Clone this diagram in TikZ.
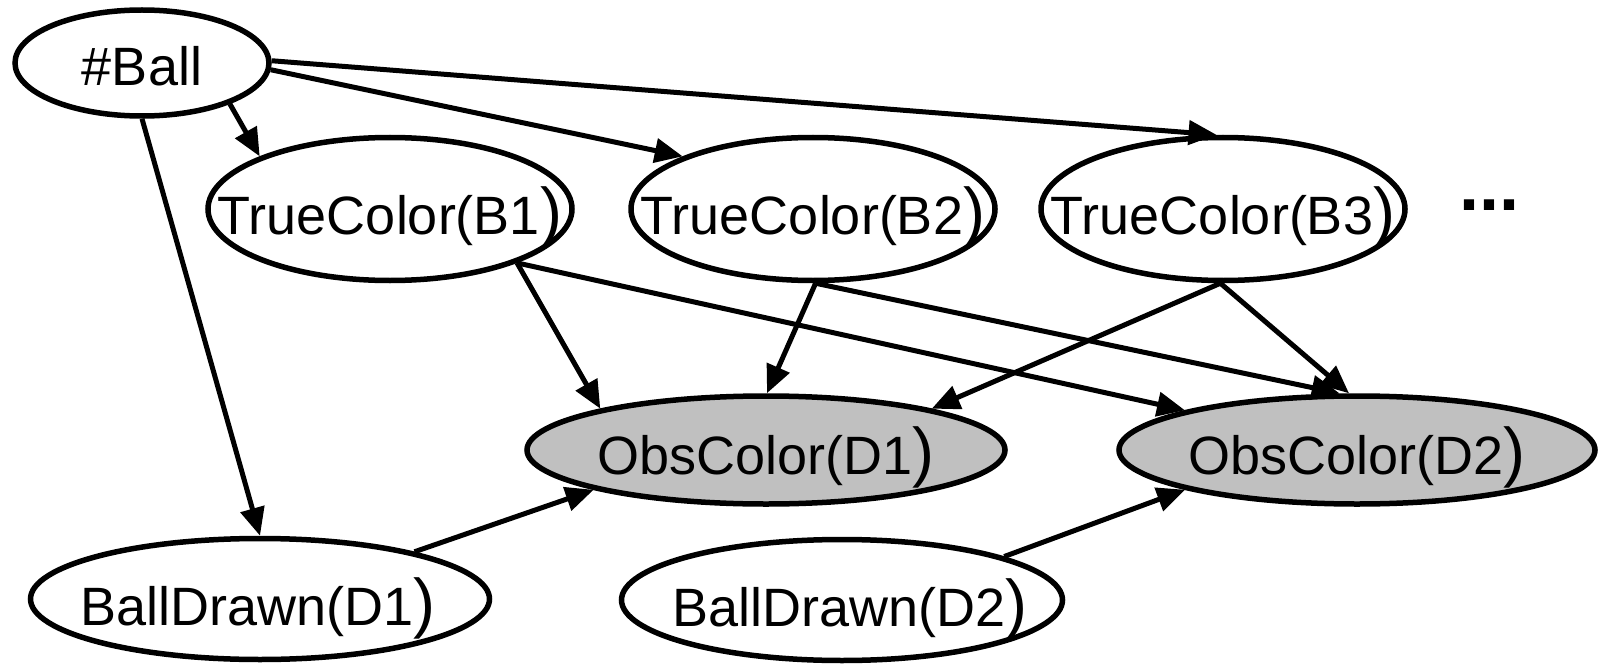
\documentclass[tikz,border=0pt]{standalone}
\usepackage{fontspec}
\setmainfont{Liberation Sans}
\usetikzlibrary{shapes.geometric,arrows.meta}
\definecolor{obsgray}{RGB}{192,192,192}
\newcommand{\bigparen}{{\fontsize{66pt}{66pt}\selectfont)}}
\begin{document}
\begin{tikzpicture}[x=1pt,y=-1pt,
  ell/.style={draw, ellipse, line width=5.5pt, inner sep=0pt, fill=white},
  obs/.style={ell, fill=obsgray},
  lbl/.style={font=\fontsize{54pt}{54pt}\selectfont, inner sep=0pt, anchor=base},
  arr/.style={line width=5pt, -{Triangle[length=28pt,width=24pt]}},
]
\useasboundingbox (0,0) rectangle (1601,666);
% ellipses
\node[ell, minimum width=254pt, minimum height=106pt] (ball) at (142,63) {};
\node[ell, minimum width=364pt, minimum height=143pt] (b1) at (390,209) {};
\node[ell, minimum width=364pt, minimum height=143pt] (b2) at (813,209) {};
\node[ell, minimum width=364pt, minimum height=143pt] (b3) at (1223,209) {};
\node[obs, minimum width=478pt, minimum height=108pt] (d1) at (766,450) {};
\node[obs, minimum width=476pt, minimum height=108pt] (d2) at (1357,450) {};
\node[ell, minimum width=459pt, minimum height=121pt] (bd1) at (260,599) {};
\node[ell, minimum width=441pt, minimum height=121pt] (bd2) at (842,600) {};
% labels
\node[lbl] (ballt) at ([yshift=-23pt]ball.center) {\#Ball};
\node[lbl] (b1t) at ([yshift=-25pt]b1.center) {TrueColor(B1\bigparen};
\node[lbl] (b2t) at ([yshift=-25pt]b2.center) {TrueColor(B2\bigparen};
\node[lbl] (b3t) at ([yshift=-25pt]b3.center) {TrueColor(B3\bigparen};
\node[lbl] (d1t) at ([yshift=-24pt]d1.center) {ObsColor(D1\bigparen};
\node[lbl] (d2t) at ([yshift=-24pt]d2.center) {ObsColor(D2\bigparen};
\node[lbl] (bd1t) at ([xshift=-2pt,yshift=-26pt]bd1.center) {BallDrawn(D1\bigparen};
\node[lbl] (bd2t) at ([xshift=8pt,yshift=-26pt]bd2.center) {BallDrawn(D2\bigparen};
\node[font=\fontsize{72pt}{72pt}\selectfont\bfseries, inner sep=0pt] (dots) at (1489,205) {...};
% edges
\draw[arr] (ball.-25) -- (b1.158);
\draw[arr] (ball.-3) -- (b2.158);
\draw[arr] (ball.1) -- (b3.95);
\draw[arr] (ball.-90) -- (bd1.90);
\draw[arr] (b1.-23) -- (d1.166);
\draw[arr] (b1.-23) -- (d2.167);
\draw[arr] (b2.-88) -- (d1.89);
\draw[arr] (b2.-88) -- (d2.107);
\draw[arr] (b3.-92) -- (d1.14);
\draw[arr] (b3.-92) -- (d2.98);
\draw[arr] (bd1.17) -- (d1.193);
\draw[arr] (bd2.15) -- (d2.193);
\end{tikzpicture}
\end{document}
